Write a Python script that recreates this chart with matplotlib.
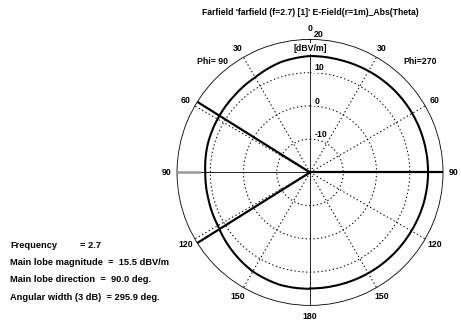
import numpy as np
import matplotlib
matplotlib.use('Agg')
import matplotlib.pyplot as plt

plt.rcParams['font.family'] = ['Liberation Sans', 'DejaVu Sans']
plt.rcParams['font.weight'] = 'bold'

# farfield cut, theta in degrees, E-field in dBV/m
theta = [0, 15, 30, 45, 60, 75, 90, 105, 120, 135, 150, 165, 180]
phi90 = [15.0, 14.3, 13.0, 12.4, 12.1, 11.9, 11.5, 11.6, 12.0, 13.2, 14.4, 15.0, 15.0]
phi270 = [15.0, 15.0, 15.2, 15.4, 15.5, 15.5, 15.5, 15.4, 15.2, 15.1, 15.0, 14.9, 14.9]

freq = 2.7
lobe_mag = 15.5
lobe_dir = 90.0
width_3db = 295.9

rings = [-10, 0, 10]
rmin, rmax = -20, 20
angle_labels = ['0', '30', '60', '90', '120', '150', '180', '150', '120', '90', '60', '30']

W, H = 461, 327
fig = plt.figure(figsize=(W / 100, H / 100), dpi=100)
ax = fig.add_axes([0.384, 0.066, 0.577, 0.8135], projection='polar')
ax.set_theta_zero_location('N')
ax.set_theta_direction(-1)
ax.set_ylim(rmin, rmax)
ax.grid(False)
ax.set_xticks([])
ax.set_yticks([])
ax.spines['polar'].set_linewidth(0.6)

dots = (0, (1.3, 2.4))
tfull = np.linspace(0, 2 * np.pi, 361)
# dotted rings and spokes
for r in rings:
    ax.plot(tfull, np.full_like(tfull, r), ls=dots, color='k', lw=0.75)
for a in range(0, 360, 30):
    if a % 90 == 0:
        continue
    ax.plot([np.radians(a)] * 2, [rmin, rmax], ls=dots, color='k', lw=0.75)
# solid axes
for a in (0, 90, 180, 270):
    ax.plot([np.radians(a)] * 2, [rmin, rmax], color='k', lw=0.6)

# pattern: Phi=270 on the right, Phi=90 mirrored on the left
th = np.array(theta, dtype=float)
ang = np.concatenate([th, 360 - th[::-1]])
val = np.concatenate([phi270, phi90[::-1]])
pat, = ax.plot(np.radians(ang), val, color='k', lw=1.5)
pat.get_path()._interpolation_steps = 40

# main lobe and 3 dB edges
ax.plot([np.radians(lobe_dir)] * 2, [rmin, rmax], color='k', lw=1.6)
for edge in (lobe_dir - width_3db / 2, lobe_dir + width_3db / 2):
    ax.plot([np.radians(edge % 360)] * 2, [rmin, rmax], color='k', lw=1.6)
ax.plot([np.radians(270)] * 2, [13.5, rmax], color='0.6', lw=1.8, zorder=5)

# angle labels outside the circle
for i, lab in enumerate(angle_labels):
    a = np.radians(i * 30)
    ax.text(a, rmax + 3.2, lab, ha='center', va='center', fontsize=6.3, fontweight='bold',
            clip_on=False)
fig.text(212 / W, 1 - 62 / H, 'Phi= 90', ha='center', va='center', fontsize=6.3,
         fontweight='bold')
fig.text(420 / W, 1 - 62 / H, 'Phi=270', ha='center', va='center', fontsize=6.3,
         fontweight='bold')

# ring values along the vertical axis
for r in [rmax] + rings[::-1]:
    ax.annotate(str(r), xy=(0, r), xytext=(3, 3.5), textcoords='offset points',
                ha='left', va='center', fontsize=6.3, fontweight='bold',
                bbox=dict(boxstyle='square,pad=0.05', fc='white', ec='none'),
                annotation_clip=False)
ax.annotate('[dBV/m]', xy=(0, rmax), xytext=(0, -6.5), textcoords='offset points',
            ha='center', va='center', fontsize=6.3, fontweight='bold',
            bbox=dict(boxstyle='square,pad=0.1', fc='white', ec='none'))

fig.text(0.673, 0.962, "Farfield 'farfield (f=2.7) [1]' E-Field(r=1m)_Abs(Theta)",
         ha='center', va='center', fontsize=6.2, fontweight='bold')

info = [
    ('Frequency', '= %.1f' % freq),
    ('Main lobe magnitude', '=  %.1f dBV/m' % lobe_mag),
    ('Main lobe direction', '=  %.1f deg.' % lobe_dir),
    ('Angular width (3 dB)', '= %.1f deg.' % width_3db),
]
for i, (k, v) in enumerate(info):
    y = 1 - (245 + i * 17.5) / H
    fig.text(10 / W, y, k + '  ' + v if i else k, ha='left', va='center',
             fontsize=6.7, fontweight='bold')
    if i == 0:
        fig.text(80 / W, y, v, ha='left', va='center', fontsize=6.7, fontweight='bold')

fig.savefig('out.png', dpi=100, facecolor='white')
